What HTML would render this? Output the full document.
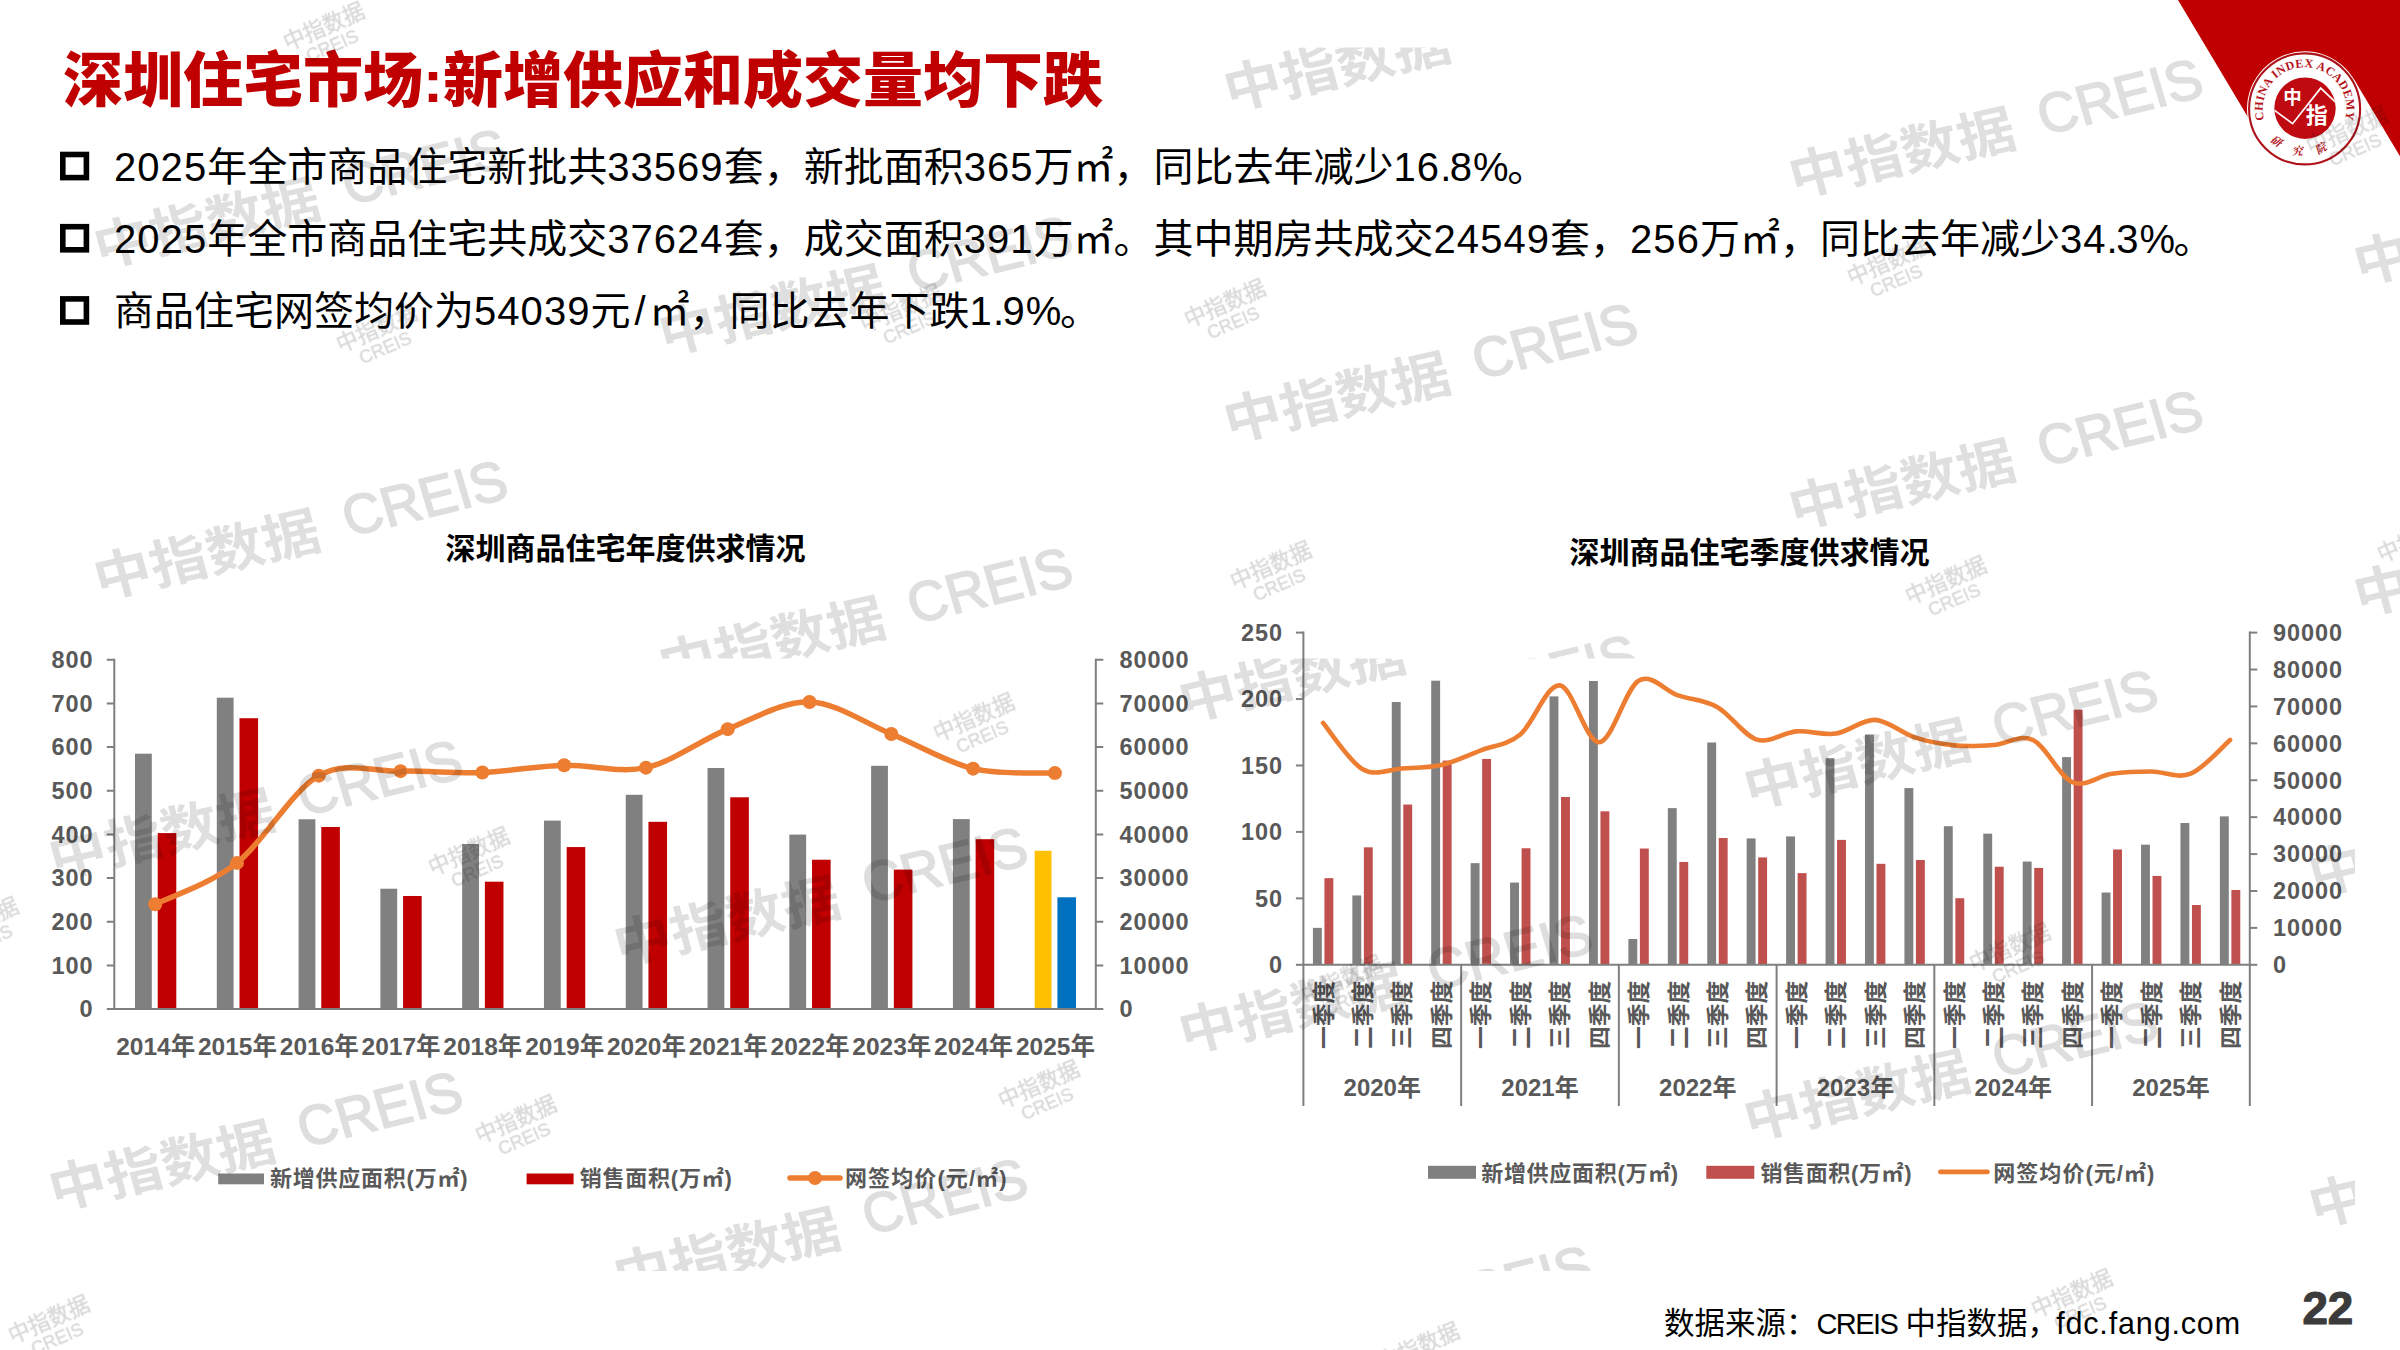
<!DOCTYPE html>
<html lang="zh-CN"><head><meta charset="utf-8"><title>深圳住宅市场</title>
<style>html,body{margin:0;padding:0;background:#fff}body{width:2400px;height:1350px;overflow:hidden;position:relative}svg{position:absolute;left:0;top:0;display:block}</style>
</head><body>
<svg width="2400" height="1350" viewBox="0 0 2400 1350">
<rect width="2400" height="1350" fill="#fff"/>
<polygon points="2178,0 2400,0 2400,372" fill="#C00000"/>
<polygon points="2354.1,79.4 2569.3,440.1 2470.3,499.1 2255.1,138.4" fill="#fff"/>
<circle cx="2304.6" cy="108.9" r="57.6" fill="#fff"/>
<circle cx="2304.6" cy="108.9" r="55.5" fill="none" stroke="#AE1119" stroke-width="2.1"/>
<circle cx="2305" cy="108.2" r="30.7" fill="#BE0A10"/>
<clipPath id="lg"><circle cx="2305" cy="108.2" r="30.7"/></clipPath>
<path clip-path="url(#lg)" d="M2273,109.2 L2292.6,123.7 L2320.7,88.1 L2337,103.5" fill="none" stroke="#fff" stroke-width="1.7"/>
<g font-family='"Liberation Sans","Noto Sans CJK SC",sans-serif' font-weight="700" fill="#fff"><text x="2292.6" y="104" font-size="18.5" text-anchor="middle">中</text><text x="2316.8" y="122.5" font-size="22" text-anchor="middle">指</text></g>
<defs><path id="arcT" d="M2270.3,132.9 A41.8,41.8 0 1 1 2338.9,132.9"/><path id="arcB" d="M2262.6,128.5 A46.5,46.5 0 0 0 2346.6,128.5"/></defs>
<text font-family='"Liberation Serif","Noto Serif CJK SC",serif' font-weight="700" font-size="12" fill="#B5121B" letter-spacing="0.35"><textPath href="#arcT" startOffset="50%" text-anchor="middle">CHINA INDEX ACADEMY</textPath></text>
<text font-family='"Liberation Serif","Noto Serif CJK SC",serif' font-weight="700" font-style="italic" font-size="11" fill="#B5121B" letter-spacing="14.5"><textPath href="#arcB" startOffset="50%" text-anchor="middle">研究院</textPath></text>
<text x="63" y="102" font-family='"Liberation Sans","Noto Sans CJK SC",sans-serif' font-weight="900" font-size="60" fill="#C00000">深圳住宅市场:新增供应和成交量均下跌</text>
<rect x="62.8" y="154.5" width="23.6" height="23.1" fill="none" stroke="#000" stroke-width="5.6"/>
<text x="114" y="181.0" font-family='"Liberation Sans","Noto Sans CJK SC",sans-serif' font-size="40" fill="#000"><tspan letter-spacing="1.05">2025</tspan>年全市商品住宅新批共<tspan letter-spacing="1.05">33569</tspan>套，新批面积<tspan letter-spacing="1.05">365</tspan>万㎡，同比去年减少<tspan letter-spacing="1.05">16</tspan><tspan letter-spacing="-1.5">.</tspan><tspan letter-spacing="1.05">8</tspan><tspan letter-spacing="-1.5">%</tspan>。</text>
<rect x="62.8" y="226.7" width="23.6" height="23.1" fill="none" stroke="#000" stroke-width="5.6"/>
<text x="114" y="253.2" font-family='"Liberation Sans","Noto Sans CJK SC",sans-serif' font-size="40" fill="#000"><tspan letter-spacing="1.05">2025</tspan>年全市商品住宅共成交<tspan letter-spacing="1.05">37624</tspan>套，成交面积<tspan letter-spacing="1.05">391</tspan>万㎡。其中期房共成交<tspan letter-spacing="1.05">24549</tspan>套，<tspan letter-spacing="1.05">256</tspan>万㎡，同比去年减少<tspan letter-spacing="1.05">34</tspan><tspan letter-spacing="-1.5">.</tspan><tspan letter-spacing="1.05">3</tspan><tspan letter-spacing="-1.5">%</tspan>。</text>
<rect x="62.8" y="298.9" width="23.6" height="23.1" fill="none" stroke="#000" stroke-width="5.6"/>
<text x="114" y="325.4" font-family='"Liberation Sans","Noto Sans CJK SC",sans-serif' font-size="40" fill="#000">商品住宅网签均价为<tspan letter-spacing="1.05">54039</tspan>元<tspan dx="4" letter-spacing="4">/</tspan>㎡，同比去年下跌<tspan letter-spacing="1.05">1</tspan><tspan letter-spacing="-1.5">.</tspan><tspan letter-spacing="1.05">9</tspan><tspan letter-spacing="-1.5">%</tspan>。</text>
<text x="1664" y="1334" font-family='"Liberation Sans","Noto Sans CJK SC",sans-serif' font-size="30.5" fill="#000">数据来源：<tspan font-size="29" letter-spacing="-1.6">CREIS</tspan> 中指数据，<tspan dx="-2" letter-spacing="0.85">fdc.fang.com</tspan></text>
<text x="2302.4" y="1324" font-family='"Liberation Sans","Noto Sans CJK SC",sans-serif' font-weight="700" font-size="45.7" fill="#3b3b3b" stroke="#3b3b3b" stroke-width="1.2" stroke-linejoin="round">22</text>
<g font-family='"Liberation Sans","Noto Sans CJK SC",sans-serif' font-weight="700" fill="#595959">
<text x="625.5" y="558.5" font-size="30" fill="#000" text-anchor="middle">深圳商品住宅年度供求情况</text>
<rect x="135.00" y="753.69" width="16.8" height="255.41" fill="#808080"/>
<rect x="157.70" y="833.09" width="18.6" height="176.01" fill="#C00000"/>
<rect x="216.79" y="697.70" width="16.8" height="311.40" fill="#808080"/>
<rect x="239.49" y="718.22" width="18.6" height="290.88" fill="#C00000"/>
<rect x="298.58" y="819.29" width="16.8" height="189.81" fill="#808080"/>
<rect x="321.28" y="826.98" width="18.6" height="182.12" fill="#C00000"/>
<rect x="380.38" y="888.73" width="16.8" height="120.37" fill="#808080"/>
<rect x="403.07" y="895.98" width="18.6" height="113.12" fill="#C00000"/>
<rect x="462.17" y="844.01" width="16.8" height="165.09" fill="#808080"/>
<rect x="484.87" y="881.70" width="18.6" height="127.40" fill="#C00000"/>
<rect x="543.96" y="820.60" width="16.8" height="188.50" fill="#808080"/>
<rect x="566.66" y="847.07" width="18.6" height="162.03" fill="#C00000"/>
<rect x="625.75" y="794.79" width="16.8" height="214.31" fill="#808080"/>
<rect x="648.45" y="821.82" width="18.6" height="187.28" fill="#C00000"/>
<rect x="707.54" y="768.01" width="16.8" height="241.09" fill="#808080"/>
<rect x="730.24" y="797.28" width="18.6" height="211.82" fill="#C00000"/>
<rect x="789.33" y="834.57" width="16.8" height="174.53" fill="#808080"/>
<rect x="812.03" y="859.73" width="18.6" height="149.37" fill="#C00000"/>
<rect x="871.12" y="765.83" width="16.8" height="243.27" fill="#808080"/>
<rect x="893.83" y="869.60" width="18.6" height="139.50" fill="#C00000"/>
<rect x="952.92" y="819.11" width="16.8" height="189.99" fill="#808080"/>
<rect x="975.62" y="839.20" width="18.6" height="169.90" fill="#C00000"/>
<rect x="1034.71" y="850.78" width="16.8" height="158.32" fill="#FFC000"/>
<rect x="1057.41" y="897.29" width="18.6" height="111.81" fill="#0070C0"/>
<path d="M114.30,658.70 V1009.10 H1095.80 V658.70" fill="none" stroke="#7f7f7f" stroke-width="2"/>
<path d="M106.80,1009.10 H114.30 M1095.80,1009.10 H1103.30" stroke="#7f7f7f" stroke-width="2"/>
<text x="93.5" y="1017.40" font-size="23.5" letter-spacing="0.9" text-anchor="end">0</text>
<text x="1119.5" y="1017.40" font-size="23.5" letter-spacing="0.9">0</text>
<path d="M106.80,965.43 H114.30 M1095.80,965.43 H1103.30" stroke="#7f7f7f" stroke-width="2"/>
<text x="93.5" y="973.73" font-size="23.5" letter-spacing="0.9" text-anchor="end">100</text>
<text x="1119.5" y="973.73" font-size="23.5" letter-spacing="0.9">10000</text>
<path d="M106.80,921.75 H114.30 M1095.80,921.75 H1103.30" stroke="#7f7f7f" stroke-width="2"/>
<text x="93.5" y="930.05" font-size="23.5" letter-spacing="0.9" text-anchor="end">200</text>
<text x="1119.5" y="930.05" font-size="23.5" letter-spacing="0.9">20000</text>
<path d="M106.80,878.08 H114.30 M1095.80,878.08 H1103.30" stroke="#7f7f7f" stroke-width="2"/>
<text x="93.5" y="886.38" font-size="23.5" letter-spacing="0.9" text-anchor="end">300</text>
<text x="1119.5" y="886.38" font-size="23.5" letter-spacing="0.9">30000</text>
<path d="M106.80,834.40 H114.30 M1095.80,834.40 H1103.30" stroke="#7f7f7f" stroke-width="2"/>
<text x="93.5" y="842.70" font-size="23.5" letter-spacing="0.9" text-anchor="end">400</text>
<text x="1119.5" y="842.70" font-size="23.5" letter-spacing="0.9">40000</text>
<path d="M106.80,790.73 H114.30 M1095.80,790.73 H1103.30" stroke="#7f7f7f" stroke-width="2"/>
<text x="93.5" y="799.02" font-size="23.5" letter-spacing="0.9" text-anchor="end">500</text>
<text x="1119.5" y="799.02" font-size="23.5" letter-spacing="0.9">50000</text>
<path d="M106.80,747.05 H114.30 M1095.80,747.05 H1103.30" stroke="#7f7f7f" stroke-width="2"/>
<text x="93.5" y="755.35" font-size="23.5" letter-spacing="0.9" text-anchor="end">600</text>
<text x="1119.5" y="755.35" font-size="23.5" letter-spacing="0.9">60000</text>
<path d="M106.80,703.38 H114.30 M1095.80,703.38 H1103.30" stroke="#7f7f7f" stroke-width="2"/>
<text x="93.5" y="711.67" font-size="23.5" letter-spacing="0.9" text-anchor="end">700</text>
<text x="1119.5" y="711.67" font-size="23.5" letter-spacing="0.9">70000</text>
<path d="M106.80,659.70 H114.30 M1095.80,659.70 H1103.30" stroke="#7f7f7f" stroke-width="2"/>
<text x="93.5" y="668.00" font-size="23.5" letter-spacing="0.9" text-anchor="end">800</text>
<text x="1119.5" y="668.00" font-size="23.5" letter-spacing="0.9">80000</text>
<text x="155.70" y="1054.5" font-size="24.5" text-anchor="middle">2014年</text>
<text x="237.49" y="1054.5" font-size="24.5" text-anchor="middle">2015年</text>
<text x="319.28" y="1054.5" font-size="24.5" text-anchor="middle">2016年</text>
<text x="401.07" y="1054.5" font-size="24.5" text-anchor="middle">2017年</text>
<text x="482.86" y="1054.5" font-size="24.5" text-anchor="middle">2018年</text>
<text x="564.65" y="1054.5" font-size="24.5" text-anchor="middle">2019年</text>
<text x="646.45" y="1054.5" font-size="24.5" text-anchor="middle">2020年</text>
<text x="728.24" y="1054.5" font-size="24.5" text-anchor="middle">2021年</text>
<text x="810.03" y="1054.5" font-size="24.5" text-anchor="middle">2022年</text>
<text x="891.82" y="1054.5" font-size="24.5" text-anchor="middle">2023年</text>
<text x="973.61" y="1054.5" font-size="24.5" text-anchor="middle">2024年</text>
<text x="1055.40" y="1054.5" font-size="24.5" text-anchor="middle">2025年</text>
<path d="M155.20,904.18 C168.83,897.30 209.72,884.30 236.99,862.88 C264.25,841.45 291.52,790.94 318.78,775.66 C346.04,760.37 373.31,771.69 400.57,771.16 C427.83,770.63 455.10,773.47 482.36,772.47 C509.63,771.47 536.89,765.98 564.15,765.18 C591.42,764.37 618.68,773.67 645.95,767.66 C673.21,761.66 700.47,740.08 727.74,729.14 C755.00,718.21 782.27,701.26 809.53,702.06 C836.79,702.87 864.06,722.85 891.32,733.95 C918.58,745.05 945.85,762.15 973.11,768.67 C1000.38,775.19 1041.27,772.35 1054.90,773.08" fill="none" stroke="#ED7D31" stroke-width="5.5" stroke-linecap="round" stroke-linejoin="round"/>
<circle cx="155.20" cy="904.18" r="7" fill="#ED7D31"/>
<circle cx="236.99" cy="862.88" r="7" fill="#ED7D31"/>
<circle cx="318.78" cy="775.66" r="7" fill="#ED7D31"/>
<circle cx="400.57" cy="771.16" r="7" fill="#ED7D31"/>
<circle cx="482.36" cy="772.47" r="7" fill="#ED7D31"/>
<circle cx="564.15" cy="765.18" r="7" fill="#ED7D31"/>
<circle cx="645.95" cy="767.66" r="7" fill="#ED7D31"/>
<circle cx="727.74" cy="729.14" r="7" fill="#ED7D31"/>
<circle cx="809.53" cy="702.06" r="7" fill="#ED7D31"/>
<circle cx="891.32" cy="733.95" r="7" fill="#ED7D31"/>
<circle cx="973.11" cy="768.67" r="7" fill="#ED7D31"/>
<circle cx="1054.90" cy="773.08" r="7" fill="#ED7D31"/>
<rect x="218.2" y="1173.5" width="45.8" height="10.8" fill="#808080"/>
<text x="270" y="1186" font-size="22" textLength="197.5" lengthAdjust="spacing">新增供应面积(万㎡)</text>
<rect x="526.6" y="1173.5" width="47" height="10.8" fill="#C00000"/>
<text x="579.8" y="1186" font-size="22" textLength="152" lengthAdjust="spacing">销售面积(万㎡)</text>
<path d="M790,1178 H840" stroke="#ED7D31" stroke-width="5.5" stroke-linecap="round"/>
<circle cx="815" cy="1178" r="7" fill="#ED7D31"/>
<text x="845" y="1186" font-size="22" textLength="161.5" lengthAdjust="spacing">网签均价(元/㎡)</text>
</g>
<g font-family='"Liberation Sans","Noto Sans CJK SC",sans-serif' font-weight="700" fill="#595959">
<text x="1749.5" y="563" font-size="30" fill="#000" text-anchor="middle">深圳商品住宅季度供求情况</text>
<rect x="1312.92" y="927.86" width="8.9" height="36.94" fill="#808080"/>
<rect x="1324.42" y="878.16" width="8.9" height="86.64" fill="#C0504D"/>
<rect x="1352.35" y="895.44" width="8.9" height="69.36" fill="#808080"/>
<rect x="1363.85" y="847.33" width="8.9" height="117.47" fill="#C0504D"/>
<rect x="1391.78" y="701.96" width="8.9" height="262.84" fill="#808080"/>
<rect x="1403.28" y="804.55" width="8.9" height="160.25" fill="#C0504D"/>
<rect x="1431.22" y="680.70" width="8.9" height="284.10" fill="#808080"/>
<rect x="1442.72" y="760.56" width="8.9" height="204.24" fill="#C0504D"/>
<rect x="1470.65" y="863.15" width="8.9" height="101.65" fill="#808080"/>
<rect x="1482.15" y="758.97" width="8.9" height="205.83" fill="#C0504D"/>
<rect x="1510.08" y="882.55" width="8.9" height="82.25" fill="#808080"/>
<rect x="1521.58" y="848.26" width="8.9" height="116.54" fill="#C0504D"/>
<rect x="1549.52" y="696.38" width="8.9" height="268.42" fill="#808080"/>
<rect x="1561.02" y="796.97" width="8.9" height="167.83" fill="#C0504D"/>
<rect x="1588.95" y="680.97" width="8.9" height="283.83" fill="#808080"/>
<rect x="1600.45" y="811.32" width="8.9" height="153.48" fill="#C0504D"/>
<rect x="1628.38" y="939.02" width="8.9" height="25.78" fill="#808080"/>
<rect x="1639.88" y="848.53" width="8.9" height="116.27" fill="#C0504D"/>
<rect x="1667.82" y="808.13" width="8.9" height="156.67" fill="#808080"/>
<rect x="1679.32" y="861.95" width="8.9" height="102.85" fill="#C0504D"/>
<rect x="1707.25" y="742.49" width="8.9" height="222.31" fill="#808080"/>
<rect x="1718.75" y="838.03" width="8.9" height="126.77" fill="#C0504D"/>
<rect x="1746.68" y="838.43" width="8.9" height="126.37" fill="#808080"/>
<rect x="1758.18" y="857.43" width="8.9" height="107.37" fill="#C0504D"/>
<rect x="1786.12" y="836.44" width="8.9" height="128.36" fill="#808080"/>
<rect x="1797.62" y="873.11" width="8.9" height="91.69" fill="#C0504D"/>
<rect x="1825.55" y="758.17" width="8.9" height="206.63" fill="#808080"/>
<rect x="1837.05" y="839.89" width="8.9" height="124.91" fill="#C0504D"/>
<rect x="1864.98" y="734.52" width="8.9" height="230.28" fill="#808080"/>
<rect x="1876.48" y="863.81" width="8.9" height="100.99" fill="#C0504D"/>
<rect x="1904.42" y="788.07" width="8.9" height="176.73" fill="#808080"/>
<rect x="1915.92" y="859.96" width="8.9" height="104.84" fill="#C0504D"/>
<rect x="1943.85" y="826.21" width="8.9" height="138.59" fill="#808080"/>
<rect x="1955.35" y="898.23" width="8.9" height="66.57" fill="#C0504D"/>
<rect x="1983.28" y="833.65" width="8.9" height="131.15" fill="#808080"/>
<rect x="1994.78" y="866.73" width="8.9" height="98.07" fill="#C0504D"/>
<rect x="2022.72" y="861.55" width="8.9" height="103.25" fill="#808080"/>
<rect x="2034.22" y="867.93" width="8.9" height="96.87" fill="#C0504D"/>
<rect x="2062.15" y="757.11" width="8.9" height="207.69" fill="#808080"/>
<rect x="2073.65" y="709.67" width="8.9" height="255.13" fill="#C0504D"/>
<rect x="2101.58" y="892.51" width="8.9" height="72.29" fill="#808080"/>
<rect x="2113.08" y="849.46" width="8.9" height="115.34" fill="#C0504D"/>
<rect x="2141.02" y="844.68" width="8.9" height="120.12" fill="#808080"/>
<rect x="2152.52" y="875.90" width="8.9" height="88.90" fill="#C0504D"/>
<rect x="2180.45" y="823.02" width="8.9" height="141.78" fill="#808080"/>
<rect x="2191.95" y="905.00" width="8.9" height="59.80" fill="#C0504D"/>
<rect x="2219.88" y="816.37" width="8.9" height="148.43" fill="#808080"/>
<rect x="2231.38" y="889.99" width="8.9" height="74.81" fill="#C0504D"/>
<path d="M1303.40,631.60 V964.80 H2249.80 V631.60" fill="none" stroke="#7f7f7f" stroke-width="2"/>
<path d="M1295.90,964.80 H1303.40" stroke="#7f7f7f" stroke-width="2"/>
<text x="1283" y="973.10" font-size="23.5" letter-spacing="0.9" text-anchor="end">0</text>
<path d="M1295.90,898.36 H1303.40" stroke="#7f7f7f" stroke-width="2"/>
<text x="1283" y="906.66" font-size="23.5" letter-spacing="0.9" text-anchor="end">50</text>
<path d="M1295.90,831.92 H1303.40" stroke="#7f7f7f" stroke-width="2"/>
<text x="1283" y="840.22" font-size="23.5" letter-spacing="0.9" text-anchor="end">100</text>
<path d="M1295.90,765.48 H1303.40" stroke="#7f7f7f" stroke-width="2"/>
<text x="1283" y="773.78" font-size="23.5" letter-spacing="0.9" text-anchor="end">150</text>
<path d="M1295.90,699.04 H1303.40" stroke="#7f7f7f" stroke-width="2"/>
<text x="1283" y="707.34" font-size="23.5" letter-spacing="0.9" text-anchor="end">200</text>
<path d="M1295.90,632.60 H1303.40" stroke="#7f7f7f" stroke-width="2"/>
<text x="1283" y="640.90" font-size="23.5" letter-spacing="0.9" text-anchor="end">250</text>
<path d="M2249.80,964.80 H2257.30" stroke="#7f7f7f" stroke-width="2"/>
<text x="2273" y="973.10" font-size="23.5" letter-spacing="0.9">0</text>
<path d="M2249.80,927.89 H2257.30" stroke="#7f7f7f" stroke-width="2"/>
<text x="2273" y="936.19" font-size="23.5" letter-spacing="0.9">10000</text>
<path d="M2249.80,890.98 H2257.30" stroke="#7f7f7f" stroke-width="2"/>
<text x="2273" y="899.28" font-size="23.5" letter-spacing="0.9">20000</text>
<path d="M2249.80,854.07 H2257.30" stroke="#7f7f7f" stroke-width="2"/>
<text x="2273" y="862.37" font-size="23.5" letter-spacing="0.9">30000</text>
<path d="M2249.80,817.16 H2257.30" stroke="#7f7f7f" stroke-width="2"/>
<text x="2273" y="825.46" font-size="23.5" letter-spacing="0.9">40000</text>
<path d="M2249.80,780.24 H2257.30" stroke="#7f7f7f" stroke-width="2"/>
<text x="2273" y="788.54" font-size="23.5" letter-spacing="0.9">50000</text>
<path d="M2249.80,743.33 H2257.30" stroke="#7f7f7f" stroke-width="2"/>
<text x="2273" y="751.63" font-size="23.5" letter-spacing="0.9">60000</text>
<path d="M2249.80,706.42 H2257.30" stroke="#7f7f7f" stroke-width="2"/>
<text x="2273" y="714.72" font-size="23.5" letter-spacing="0.9">70000</text>
<path d="M2249.80,669.51 H2257.30" stroke="#7f7f7f" stroke-width="2"/>
<text x="2273" y="677.81" font-size="23.5" letter-spacing="0.9">80000</text>
<path d="M2249.80,632.60 H2257.30" stroke="#7f7f7f" stroke-width="2"/>
<text x="2273" y="640.90" font-size="23.5" letter-spacing="0.9">90000</text>
<path d="M1303.40,964.80 V1106" stroke="#7f7f7f" stroke-width="2"/>
<path d="M1461.13,964.80 V1106" stroke="#7f7f7f" stroke-width="2"/>
<path d="M1618.87,964.80 V1106" stroke="#7f7f7f" stroke-width="2"/>
<path d="M1776.60,964.80 V1106" stroke="#7f7f7f" stroke-width="2"/>
<path d="M1934.33,964.80 V1106" stroke="#7f7f7f" stroke-width="2"/>
<path d="M2092.07,964.80 V1106" stroke="#7f7f7f" stroke-width="2"/>
<path d="M2249.80,964.80 V1106" stroke="#7f7f7f" stroke-width="2"/>
<text transform="translate(1331.62,1049) rotate(-90)" font-size="22.8">一季度</text>
<text transform="translate(1371.05,1049) rotate(-90)" font-size="22.8">二季度</text>
<text transform="translate(1410.48,1049) rotate(-90)" font-size="22.8">三季度</text>
<text transform="translate(1449.92,1049) rotate(-90)" font-size="22.8">四季度</text>
<text transform="translate(1489.35,1049) rotate(-90)" font-size="22.8">一季度</text>
<text transform="translate(1528.78,1049) rotate(-90)" font-size="22.8">二季度</text>
<text transform="translate(1568.22,1049) rotate(-90)" font-size="22.8">三季度</text>
<text transform="translate(1607.65,1049) rotate(-90)" font-size="22.8">四季度</text>
<text transform="translate(1647.08,1049) rotate(-90)" font-size="22.8">一季度</text>
<text transform="translate(1686.52,1049) rotate(-90)" font-size="22.8">二季度</text>
<text transform="translate(1725.95,1049) rotate(-90)" font-size="22.8">三季度</text>
<text transform="translate(1765.38,1049) rotate(-90)" font-size="22.8">四季度</text>
<text transform="translate(1804.82,1049) rotate(-90)" font-size="22.8">一季度</text>
<text transform="translate(1844.25,1049) rotate(-90)" font-size="22.8">二季度</text>
<text transform="translate(1883.68,1049) rotate(-90)" font-size="22.8">三季度</text>
<text transform="translate(1923.12,1049) rotate(-90)" font-size="22.8">四季度</text>
<text transform="translate(1962.55,1049) rotate(-90)" font-size="22.8">一季度</text>
<text transform="translate(2001.98,1049) rotate(-90)" font-size="22.8">二季度</text>
<text transform="translate(2041.42,1049) rotate(-90)" font-size="22.8">三季度</text>
<text transform="translate(2080.85,1049) rotate(-90)" font-size="22.8">四季度</text>
<text transform="translate(2120.28,1049) rotate(-90)" font-size="22.8">一季度</text>
<text transform="translate(2159.72,1049) rotate(-90)" font-size="22.8">二季度</text>
<text transform="translate(2199.15,1049) rotate(-90)" font-size="22.8">三季度</text>
<text transform="translate(2238.58,1049) rotate(-90)" font-size="22.8">四季度</text>
<text x="1382.27" y="1096" font-size="24" text-anchor="middle">2020年</text>
<text x="1540.00" y="1096" font-size="24" text-anchor="middle">2021年</text>
<text x="1697.73" y="1096" font-size="24" text-anchor="middle">2022年</text>
<text x="1855.47" y="1096" font-size="24" text-anchor="middle">2023年</text>
<text x="2013.20" y="1096" font-size="24" text-anchor="middle">2024年</text>
<text x="2170.93" y="1096" font-size="24" text-anchor="middle">2025年</text>
<path d="M1323.12,723.03 C1329.69,730.72 1349.41,761.60 1362.55,769.17 C1375.69,776.74 1388.84,769.11 1401.98,768.43 C1415.13,767.76 1428.27,768.13 1441.42,765.11 C1454.56,762.10 1467.71,755.45 1480.85,750.35 C1493.99,745.24 1507.14,745.30 1520.28,734.47 C1533.43,723.65 1546.57,684.09 1559.72,685.38 C1572.86,686.67 1586.01,743.00 1599.15,742.23 C1612.29,741.45 1625.44,688.54 1638.58,680.73 C1651.73,672.92 1664.87,690.94 1678.02,695.35 C1691.16,699.75 1704.31,699.78 1717.45,707.16 C1730.59,714.54 1743.74,735.61 1756.88,739.64 C1770.03,743.68 1783.17,732.38 1796.32,731.37 C1809.46,730.37 1822.61,735.50 1835.75,733.59 C1848.89,731.68 1862.04,719.25 1875.18,719.89 C1888.33,720.53 1901.47,733.18 1914.62,737.43 C1927.76,741.67 1940.91,744.10 1954.05,745.36 C1967.19,746.63 1980.34,745.92 1993.48,745.03 C2006.63,744.14 2019.77,733.83 2032.92,740.01 C2046.06,746.19 2059.21,776.47 2072.35,782.09 C2085.49,787.71 2098.64,775.48 2111.78,773.71 C2124.93,771.95 2138.07,771.50 2151.22,771.50 C2164.36,771.50 2177.51,778.96 2190.65,773.71 C2203.79,768.46 2223.51,745.63 2230.08,740.01" fill="none" stroke="#ED7D31" stroke-width="4.6" stroke-linecap="round" stroke-linejoin="round"/>
<rect x="1428" y="1165.8" width="48" height="13" fill="#808080"/>
<text x="1481.2" y="1180.5" font-size="22" textLength="197" lengthAdjust="spacing">新增供应面积(万㎡)</text>
<rect x="1706.3" y="1165.8" width="48" height="13" fill="#C0504D"/>
<text x="1760.5" y="1180.5" font-size="22" textLength="151" lengthAdjust="spacing">销售面积(万㎡)</text>
<path d="M1940.3,1171.9 H1987.5" stroke="#ED7D31" stroke-width="4.6" stroke-linecap="round"/>
<text x="1993.3" y="1180.5" font-size="22" textLength="161" lengthAdjust="spacing">网签均价(元/㎡)</text>
</g>
<defs>
<clipPath id="t0"><rect x="0" y="0" width="2400" height="47"/></clipPath>
<clipPath id="t1"><rect x="0" y="47.6" width="2400" height="611"/></clipPath>
<clipPath id="t2"><rect x="0" y="658.6" width="2355" height="612.4"/></clipPath>
<clipPath id="t3"><rect x="0" y="1269" width="2400" height="100"/></clipPath>
</defs>
<g font-family='"Liberation Sans","Noto Sans CJK SC",sans-serif' font-weight="700" fill="#000" fill-opacity="0.127">
<g clip-path="url(#t1)"><g transform="translate(99.0,265.5) scale(1.1,1) rotate(-14)"><text x="0" y="1.5" font-size="52.6">中指数据</text><text transform="translate(235,-3.4) rotate(-1.1) scale(0.893,1)" font-size="56" font-weight="400" fill-opacity="1" opacity="0.127" stroke="#000" stroke-width="1.7" stroke-linejoin="round">CREIS</text></g></g>
<g clip-path="url(#t1)"><g transform="translate(99.0,597.0) scale(1.1,1) rotate(-14)"><text x="0" y="1.5" font-size="52.6">中指数据</text><text transform="translate(235,-3.4) rotate(-1.1) scale(0.893,1)" font-size="56" font-weight="400" fill-opacity="1" opacity="0.127" stroke="#000" stroke-width="1.7" stroke-linejoin="round">CREIS</text></g></g>
<g clip-path="url(#t1)"><g transform="translate(664.1,352.6) scale(1.1,1) rotate(-14)"><text x="0" y="1.5" font-size="52.6">中指数据</text><text transform="translate(235,-3.4) rotate(-1.1) scale(0.893,1)" font-size="56" font-weight="400" fill-opacity="1" opacity="0.127" stroke="#000" stroke-width="1.7" stroke-linejoin="round">CREIS</text></g></g>
<g clip-path="url(#t1)"><g transform="translate(664.1,684.1) scale(1.1,1) rotate(-14)"><text x="0" y="1.5" font-size="52.6">中指数据</text><text transform="translate(235,-3.4) rotate(-1.1) scale(0.893,1)" font-size="56" font-weight="400" fill-opacity="1" opacity="0.127" stroke="#000" stroke-width="1.7" stroke-linejoin="round">CREIS</text></g></g>
<g clip-path="url(#t1)"><g transform="translate(1229.1,108.2) scale(1.1,1) rotate(-14)"><text x="0" y="1.5" font-size="52.6">中指数据</text><text transform="translate(235,-3.4) rotate(-1.1) scale(0.893,1)" font-size="56" font-weight="400" fill-opacity="1" opacity="0.127" stroke="#000" stroke-width="1.7" stroke-linejoin="round">CREIS</text></g></g>
<g clip-path="url(#t1)"><g transform="translate(1229.1,439.7) scale(1.1,1) rotate(-14)"><text x="0" y="1.5" font-size="52.6">中指数据</text><text transform="translate(235,-3.4) rotate(-1.1) scale(0.893,1)" font-size="56" font-weight="400" fill-opacity="1" opacity="0.127" stroke="#000" stroke-width="1.7" stroke-linejoin="round">CREIS</text></g></g>
<g clip-path="url(#t1)"><g transform="translate(1229.1,771.2) scale(1.1,1) rotate(-14)"><text x="0" y="1.5" font-size="52.6">中指数据</text><text transform="translate(235,-3.4) rotate(-1.1) scale(0.893,1)" font-size="56" font-weight="400" fill-opacity="1" opacity="0.127" stroke="#000" stroke-width="1.7" stroke-linejoin="round">CREIS</text></g></g>
<g clip-path="url(#t1)"><g transform="translate(1794.2,195.3) scale(1.1,1) rotate(-14)"><text x="0" y="1.5" font-size="52.6">中指数据</text><text transform="translate(235,-3.4) rotate(-1.1) scale(0.893,1)" font-size="56" font-weight="400" fill-opacity="1" opacity="0.127" stroke="#000" stroke-width="1.7" stroke-linejoin="round">CREIS</text></g></g>
<g clip-path="url(#t1)"><g transform="translate(1794.2,526.8) scale(1.1,1) rotate(-14)"><text x="0" y="1.5" font-size="52.6">中指数据</text><text transform="translate(235,-3.4) rotate(-1.1) scale(0.893,1)" font-size="56" font-weight="400" fill-opacity="1" opacity="0.127" stroke="#000" stroke-width="1.7" stroke-linejoin="round">CREIS</text></g></g>
<g clip-path="url(#t1)"><g transform="translate(2359.2,282.4) scale(1.1,1) rotate(-14)"><text x="0" y="1.5" font-size="52.6">中指数据</text><text transform="translate(235,-3.4) rotate(-1.1) scale(0.893,1)" font-size="56" font-weight="400" fill-opacity="1" opacity="0.127" stroke="#000" stroke-width="1.7" stroke-linejoin="round">CREIS</text></g></g>
<g clip-path="url(#t1)"><g transform="translate(2359.2,613.9) scale(1.1,1) rotate(-14)"><text x="0" y="1.5" font-size="52.6">中指数据</text><text transform="translate(235,-3.4) rotate(-1.1) scale(0.893,1)" font-size="56" font-weight="400" fill-opacity="1" opacity="0.127" stroke="#000" stroke-width="1.7" stroke-linejoin="round">CREIS</text></g></g>
<g clip-path="url(#t2)"><g transform="translate(54.0,876.5) scale(1.1,1) rotate(-14)"><text x="0" y="1.5" font-size="52.6">中指数据</text><text transform="translate(235,-3.4) rotate(-1.1) scale(0.893,1)" font-size="56" font-weight="400" fill-opacity="1" opacity="0.127" stroke="#000" stroke-width="1.7" stroke-linejoin="round">CREIS</text></g></g>
<g clip-path="url(#t2)"><g transform="translate(54.0,1208.0) scale(1.1,1) rotate(-14)"><text x="0" y="1.5" font-size="52.6">中指数据</text><text transform="translate(235,-3.4) rotate(-1.1) scale(0.893,1)" font-size="56" font-weight="400" fill-opacity="1" opacity="0.127" stroke="#000" stroke-width="1.7" stroke-linejoin="round">CREIS</text></g></g>
<g clip-path="url(#t2)"><g transform="translate(619.1,963.6) scale(1.1,1) rotate(-14)"><text x="0" y="1.5" font-size="52.6">中指数据</text><text transform="translate(235,-3.4) rotate(-1.1) scale(0.893,1)" font-size="56" font-weight="400" fill-opacity="1" opacity="0.127" stroke="#000" stroke-width="1.7" stroke-linejoin="round">CREIS</text></g></g>
<g clip-path="url(#t2)"><g transform="translate(619.1,1295.1) scale(1.1,1) rotate(-14)"><text x="0" y="1.5" font-size="52.6">中指数据</text><text transform="translate(235,-3.4) rotate(-1.1) scale(0.893,1)" font-size="56" font-weight="400" fill-opacity="1" opacity="0.127" stroke="#000" stroke-width="1.7" stroke-linejoin="round">CREIS</text></g></g>
<g clip-path="url(#t2)"><g transform="translate(1184.1,719.2) scale(1.1,1) rotate(-14)"><text x="0" y="1.5" font-size="52.6">中指数据</text><text transform="translate(235,-3.4) rotate(-1.1) scale(0.893,1)" font-size="56" font-weight="400" fill-opacity="1" opacity="0.127" stroke="#000" stroke-width="1.7" stroke-linejoin="round">CREIS</text></g></g>
<g clip-path="url(#t2)"><g transform="translate(1184.1,1050.7) scale(1.1,1) rotate(-14)"><text x="0" y="1.5" font-size="52.6">中指数据</text><text transform="translate(235,-3.4) rotate(-1.1) scale(0.893,1)" font-size="56" font-weight="400" fill-opacity="1" opacity="0.127" stroke="#000" stroke-width="1.7" stroke-linejoin="round">CREIS</text></g></g>
<g clip-path="url(#t2)"><g transform="translate(1184.1,1382.2) scale(1.1,1) rotate(-14)"><text x="0" y="1.5" font-size="52.6">中指数据</text><text transform="translate(235,-3.4) rotate(-1.1) scale(0.893,1)" font-size="56" font-weight="400" fill-opacity="1" opacity="0.127" stroke="#000" stroke-width="1.7" stroke-linejoin="round">CREIS</text></g></g>
<g clip-path="url(#t2)"><g transform="translate(1749.2,806.3) scale(1.1,1) rotate(-14)"><text x="0" y="1.5" font-size="52.6">中指数据</text><text transform="translate(235,-3.4) rotate(-1.1) scale(0.893,1)" font-size="56" font-weight="400" fill-opacity="1" opacity="0.127" stroke="#000" stroke-width="1.7" stroke-linejoin="round">CREIS</text></g></g>
<g clip-path="url(#t2)"><g transform="translate(1749.2,1137.8) scale(1.1,1) rotate(-14)"><text x="0" y="1.5" font-size="52.6">中指数据</text><text transform="translate(235,-3.4) rotate(-1.1) scale(0.893,1)" font-size="56" font-weight="400" fill-opacity="1" opacity="0.127" stroke="#000" stroke-width="1.7" stroke-linejoin="round">CREIS</text></g></g>
<g clip-path="url(#t2)"><g transform="translate(2314.2,893.4) scale(1.1,1) rotate(-14)"><text x="0" y="1.5" font-size="52.6">中指数据</text><text transform="translate(235,-3.4) rotate(-1.1) scale(0.893,1)" font-size="56" font-weight="400" fill-opacity="1" opacity="0.127" stroke="#000" stroke-width="1.7" stroke-linejoin="round">CREIS</text></g></g>
<g clip-path="url(#t2)"><g transform="translate(2314.2,1224.9) scale(1.1,1) rotate(-14)"><text x="0" y="1.5" font-size="52.6">中指数据</text><text transform="translate(235,-3.4) rotate(-1.1) scale(0.893,1)" font-size="56" font-weight="400" fill-opacity="1" opacity="0.127" stroke="#000" stroke-width="1.7" stroke-linejoin="round">CREIS</text></g></g>
</g>
<g font-family='"Liberation Sans","Noto Sans CJK SC",sans-serif' font-weight="400" fill="#000" stroke="#000" stroke-width="0.5" opacity="0.15">
<g transform="translate(328.0,36.0) rotate(-23.5)"><text x="0" y="-3" font-size="21.5" text-anchor="middle">中指数据</text><text x="0" y="16.5" font-size="18" text-anchor="middle">CREIS</text></g>
<g transform="translate(381.0,338.0) rotate(-23.5)"><text x="0" y="-3" font-size="21.5" text-anchor="middle">中指数据</text><text x="0" y="16.5" font-size="18" text-anchor="middle">CREIS</text></g>
<g transform="translate(905.0,318.0) rotate(-23.5)"><text x="0" y="-3" font-size="21.5" text-anchor="middle">中指数据</text><text x="0" y="16.5" font-size="18" text-anchor="middle">CREIS</text></g>
<g transform="translate(1229.0,313.0) rotate(-23.5)"><text x="0" y="-3" font-size="21.5" text-anchor="middle">中指数据</text><text x="0" y="16.5" font-size="18" text-anchor="middle">CREIS</text></g>
<g transform="translate(1892.0,271.0) rotate(-23.5)"><text x="0" y="-3" font-size="21.5" text-anchor="middle">中指数据</text><text x="0" y="16.5" font-size="18" text-anchor="middle">CREIS</text></g>
<g transform="translate(2351.0,140.0) rotate(-23.5)"><text x="0" y="-3" font-size="21.5" text-anchor="middle">中指数据</text><text x="0" y="16.5" font-size="18" text-anchor="middle">CREIS</text></g>
<g transform="translate(473.0,861.0) rotate(-23.5)"><text x="0" y="-3" font-size="21.5" text-anchor="middle">中指数据</text><text x="0" y="16.5" font-size="18" text-anchor="middle">CREIS</text></g>
<g transform="translate(978.0,727.0) rotate(-23.5)"><text x="0" y="-3" font-size="21.5" text-anchor="middle">中指数据</text><text x="0" y="16.5" font-size="18" text-anchor="middle">CREIS</text></g>
<g transform="translate(1275.0,575.0) rotate(-23.5)"><text x="0" y="-3" font-size="21.5" text-anchor="middle">中指数据</text><text x="0" y="16.5" font-size="18" text-anchor="middle">CREIS</text></g>
<g transform="translate(1950.0,590.0) rotate(-23.5)"><text x="0" y="-3" font-size="21.5" text-anchor="middle">中指数据</text><text x="0" y="16.5" font-size="18" text-anchor="middle">CREIS</text></g>
<g transform="translate(2422.0,548.0) rotate(-23.5)"><text x="0" y="-3" font-size="21.5" text-anchor="middle">中指数据</text><text x="0" y="16.5" font-size="18" text-anchor="middle">CREIS</text></g>
<g transform="translate(-18.0,931.0) rotate(-23.5)"><text x="0" y="-3" font-size="21.5" text-anchor="middle">中指数据</text><text x="0" y="16.5" font-size="18" text-anchor="middle">CREIS</text></g>
<g transform="translate(520.0,1129.0) rotate(-23.5)"><text x="0" y="-3" font-size="21.5" text-anchor="middle">中指数据</text><text x="0" y="16.5" font-size="18" text-anchor="middle">CREIS</text></g>
<g transform="translate(1043.0,1094.0) rotate(-23.5)"><text x="0" y="-3" font-size="21.5" text-anchor="middle">中指数据</text><text x="0" y="16.5" font-size="18" text-anchor="middle">CREIS</text></g>
<g transform="translate(1346.0,989.0) rotate(-23.5)"><text x="0" y="-3" font-size="21.5" text-anchor="middle">中指数据</text><text x="0" y="16.5" font-size="18" text-anchor="middle">CREIS</text></g>
<g transform="translate(2014.0,957.0) rotate(-23.5)"><text x="0" y="-3" font-size="21.5" text-anchor="middle">中指数据</text><text x="0" y="16.5" font-size="18" text-anchor="middle">CREIS</text></g>
<g transform="translate(53.0,1329.0) rotate(-23.5)"><text x="0" y="-3" font-size="21.5" text-anchor="middle">中指数据</text><text x="0" y="16.5" font-size="18" text-anchor="middle">CREIS</text></g>
<g transform="translate(1423.0,1356.0) rotate(-23.5)"><text x="0" y="-3" font-size="21.5" text-anchor="middle">中指数据</text><text x="0" y="16.5" font-size="18" text-anchor="middle">CREIS</text></g>
<g transform="translate(2076.0,1303.0) rotate(-23.5)"><text x="0" y="-3" font-size="21.5" text-anchor="middle">中指数据</text><text x="0" y="16.5" font-size="18" text-anchor="middle">CREIS</text></g>
</g>
</svg>
</body></html>
